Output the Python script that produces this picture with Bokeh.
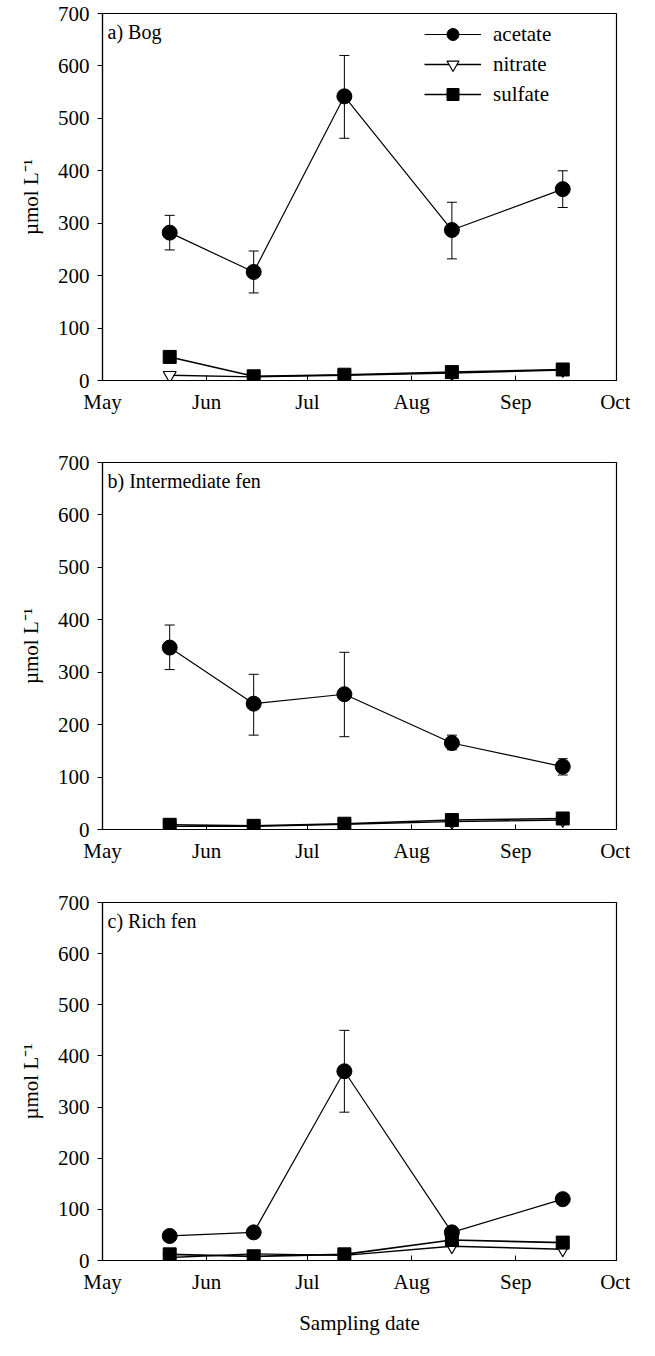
import datetime as dt
from bokeh.plotting import figure
from bokeh.models import (Range1d, FixedTicker, Whisker, TeeHead, ColumnDataSource,
                          Label, Legend, LegendItem)
from bokeh.layouts import column
from bokeh.embed import file_html
from bokeh.resources import INLINE

# ---------------- data ----------------
sampling_dates = ["2000-05-21", "2000-06-15", "2000-07-12", "2000-08-13", "2000-09-15"]
month_ticks = ["2000-05-01", "2000-06-01", "2000-07-01", "2000-08-01", "2000-09-01", "2000-10-01"]
month_labels = ["May", "Jun", "Jul", "Aug", "Sep", "Oct"]

panel_titles = ["a) Bog", "b) Intermediate fen", "c) Rich fen"]

bog_acetate = [282, 207, 542, 287, 365]
bog_acetate_lo = [249, 167, 462, 232, 330]
bog_acetate_hi = [315, 247, 620, 340, 400]
bog_nitrate = [10, 7, 10, 14, 20]
bog_sulfate = [45, 8, 11, 16, 21]

int_acetate = [347, 240, 258, 165, 120]
int_acetate_lo = [305, 180, 177, 152, 104]
int_acetate_hi = [390, 296, 338, 180, 135]
int_nitrate = [6, 6, 10, 15, 18]
int_sulfate = [9, 7, 11, 18, 21]

rich_acetate = [48, 55, 370, 55, 120]
rich_acetate_lo = [48, 55, 290, 55, 120]
rich_acetate_hi = [48, 55, 450, 55, 120]
rich_nitrate = [6, 13, 10, 28, 22]
rich_sulfate = [12, 8, 12, 40, 35]

FONT = "Liberation Serif"
base = dt.date(2000, 5, 1)


def day_offset(s):
    return (dt.date.fromisoformat(s) - base).days


xs = [day_offset(d) for d in sampling_dates]
tick_pos = [day_offset(d) for d in month_ticks]

panels = [
    (bog_acetate, bog_acetate_lo, bog_acetate_hi, bog_nitrate, bog_sulfate),
    (int_acetate, int_acetate_lo, int_acetate_hi, int_nitrate, int_sulfate),
    (rich_acetate, rich_acetate_lo, rich_acetate_hi, rich_nitrate, rich_sulfate),
]

tops = [13, 42, 33]
bottoms = [40, 40, 68]
FRAME_H = 367

figs = []
for i, (ace, lo, hi, nit, sul) in enumerate(panels):
    p = figure(width=630, height=tops[i] + FRAME_H + bottoms[i],
               output_backend="svg", toolbar_location=None,
               x_range=Range1d(0, 153), y_range=Range1d(0, 700),
               min_border_left=102, min_border_right=14,
               min_border_top=tops[i], min_border_bottom=bottoms[i])
    p.grid.visible = False
    p.outline_line_color = "black"
    p.outline_line_width = 1.2
    p.background_fill_color = "white"
    p.border_fill_color = "white"

    # axes
    p.xaxis.ticker = FixedTicker(ticks=tick_pos)
    p.xaxis.major_label_overrides = {t: m for t, m in zip(tick_pos, month_labels)}
    p.xaxis.minor_tick_line_color = None
    p.xaxis.major_tick_in = 5
    p.xaxis.major_tick_out = 0
    p.xaxis.major_label_standoff = 9
    p.yaxis.ticker = FixedTicker(ticks=list(range(0, 701, 100)))
    p.yaxis.minor_tick_line_color = None
    p.yaxis.major_tick_in = 0
    p.yaxis.major_tick_out = 5
    p.yaxis.major_label_standoff = 8
    p.yaxis.axis_label = "µmol L⁻¹"
    p.yaxis.axis_label_standoff = 12
    for ax in (p.xaxis, p.yaxis):
        ax.axis_line_color = "black"
        ax.axis_line_width = 1.2
        ax.major_tick_line_color = "black"
        ax.major_label_text_font = FONT
        ax.major_label_text_font_size = "21px"
        ax.major_label_text_color = "black"
        ax.axis_label_text_font = FONT
        ax.axis_label_text_font_size = "21px"
        ax.axis_label_text_font_style = "normal"
        ax.axis_label_text_color = "black"
    if i == 2:
        p.xaxis.axis_label = "Sampling date"
        p.xaxis.axis_label_standoff = 14

    # error bars (only where lo != hi)
    idx = [k for k in range(len(xs)) if lo[k] != hi[k]]
    wsrc = ColumnDataSource(dict(x=[xs[k] for k in idx],
                                 lo=[lo[k] for k in idx],
                                 hi=[hi[k] for k in idx]))
    p.add_layout(Whisker(source=wsrc, base="x", lower="lo", upper="hi",
                         line_color="black", line_width=1,
                         upper_head=TeeHead(size=10, line_color="black", line_width=1),
                         lower_head=TeeHead(size=10, line_color="black", line_width=1)))

    # nitrate
    ln = p.line(xs, nit, line_color="black", line_width=1.4)
    sn = p.scatter(xs, nit, marker="inverted_triangle", size=13,
                   fill_color="white", line_color="black", line_width=1.2)
    # sulfate
    ls = p.line(xs, sul, line_color="black", line_width=1.6)
    ss = p.scatter(xs, sul, marker="square", size=13,
                   fill_color="black", line_color="black")
    # acetate
    la = p.line(xs, ace, line_color="black", line_width=1.2)
    sa = p.scatter(xs, ace, marker="circle", size=15,
                   fill_color="black", line_color="black")

    p.add_layout(Label(x=1.5, y=664, text=panel_titles[i], text_font=FONT,
                       text_font_size="20px", text_baseline="middle",
                       text_color="black"))

    if i == 0:
        legend = Legend(items=[LegendItem(label="acetate", renderers=[la, sa]),
                               LegendItem(label="nitrate", renderers=[ln, sn]),
                               LegendItem(label="sulfate", renderers=[ls, ss])],
                        location=(322, 271), glyph_width=57, glyph_height=30,
                        label_height=30, spacing=0, padding=0, margin=0,
                        border_line_alpha=0, background_fill_alpha=0,
                        label_text_font=FONT, label_text_font_size="21px",
                        label_text_color="black", label_standoff=12)
        p.add_layout(legend)
    figs.append(p)

layout = column(*figs, spacing=0)
open("out.html", "w").write(file_html(layout, INLINE))
